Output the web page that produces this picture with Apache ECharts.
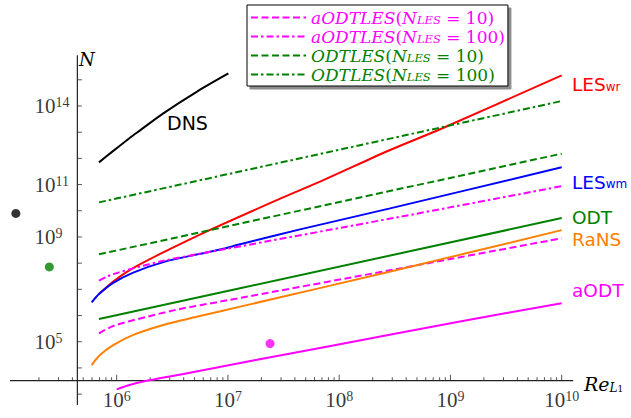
<!DOCTYPE html>
<html><head><meta charset="utf-8">
<script src="https://cdn.jsdelivr.net/npm/echarts@6/dist/echarts.min.js"></script>
<style>html,body{margin:0;padding:0;background:#fff}#c{width:631px;height:418px}</style>
</head><body><div id="c"></div>
<script>
// ---------- data ----------
const dnsRe = [6.93e5, 8.91e5, 1.318e6, 1.622e6, 2.624e6, 5.236e6, 1.009e7];
const dnsN  = [7.03e11, 1.66e12, 6.17e12, 1.175e13, 5.25e13, 3.47e14, 1.74e15];

const lesWrRe = [6.93e5, 9.31e5, 1.365e6, 2.512e6, 6.761e6, 2.944e7, 7.211e7, 2.871e8, 8.375e8, 1e10];
const lesWrN  = [6.61e6, 2.0e7, 6.03e7, 2.34e8, 1.778e9, 2.884e10, 1.479e11, 2.089e12, 1.380e13, 1.479e15];

const lesWmRe = [5.96e5, 6.93e5, 9.31e5, 1.409e6, 2.624e6, 5.236e6, 8.492e6, 1.288e7, 4.446e7, 2.871e8, 1e10];
const lesWmN  = [3.16e6, 6.61e6, 1.778e7, 4.37e7, 1.096e8, 2.14e8, 3.31e8, 5.25e8, 1.95e9, 1.23e10, 4.57e11];

const odtRe = [6.93e5, 1.285e7, 1e10];
const odtN  = [7.35e5, 1.096e7, 5.25e9];

const ransRe = [5.96e5, 7.08e5, 9.31e5, 1.409e6, 2.624e6, 5.236e6, 1.288e7, 3.162e8, 1e10];
const ransN  = [1.288e4, 3.09e4, 7.41e4, 1.82e5, 4.37e5, 8.91e5, 2.19e6, 5.25e7, 1.82e9];

const aodtRe = [1e6, 1.259e6, 1.734e6, 3.981e6, 1.778e7, 3.532e8, 1.403e9, 1e10];
const aodtN  = [1514, 2138, 3020, 5888, 1.995e4, 2.19e5, 6.61e5, 2.95e6];

const aodtles10Re = [6.93e5, 9.31e5, 1.862e6, 3.707e6, 8.492e6, 3.532e8, 1e10];
const aodtles10N  = [2.09e5, 3.98e5, 8.91e5, 1.778e6, 3.39e6, 6.31e7, 8.91e8];

const aodtles100Re = [6.93e5, 8.32e5, 1e6, 1.409e6, 2.624e6, 8.492e6, 3.532e8, 1e10];
const aodtles100N  = [2.14e7, 3.16e7, 4.17e7, 6.31e7, 1.23e8, 3.16e8, 5.89e9, 8.71e10];

const odtles10Re = [6.93e5, 7.94e7, 1e10];
const odtles10N  = [2.17e8, 1.74e10, 1.51e12];

const odtles100Re = [6.93e5, 7.94e7, 1e10];
const odtles100N  = [2.09e10, 1.72e12, 1.55e14];

const pointRe = [1.24e5, 2.48e5, 2.39e7];
const pointN  = [7.9e9, 7.2e7, 8.5e4];
const pointColors = ['#000000', '#008000', '#ff00ff'];

// axes crossing and extents
const axisCrossRe = 4.43e5;
const axisCrossN = 3243;
const xAxisLineRe = [1.1e5, 1.27e10];
const yAxisLineN = [380, 8.7e15];

// ticks
const xMajorTicks = [1e6, 1e7, 1e8, 1e9, 1e10];
const xTickMantissas = [2, 3, 4, 5, 6, 7, 8, 9];
const xMinorDecades = [1e5, 1e6, 1e7, 1e8, 1e9];
const yTicks = [1e3, 1e4, 1e5, 1e6, 1e7, 1e8, 1e9, 1e10, 1e11, 1e12, 1e13, 1e14, 1e15];
const xTickLabels = [1e6, 1e7, 1e8, 1e9, 1e10];
const yTickLabels = [1e5, 1e9, 1e11, 1e14];

// ---------- chart ----------
const chart = echarts.init(document.getElementById('c'), null, {renderer: 'svg', width: 631, height: 418});

const MAG = '#ff00ff', GRN = '#008000', RED = '#ff0000', BLU = '#0000ff', ORG = '#ff8000';
const DASH = [7, 3.5];
const DASHDOT = [7, 3, 2.5, 3];

function lineSeries(name, xs, ys, color, type, smooth, z) {
  return {
    name, type: 'line', data: xs.map((x, i) => [x, ys[i]]),
    symbol: 'none', showSymbol: false, smooth: smooth ? 0.3 : false,
    lineStyle: {color, width: 2, type}, itemStyle: {color},
    silent: true, clip: false, z: z || 3, animation: false
  };
}

const xMinorTicks = [];
xMinorDecades.forEach(d => xTickMantissas.forEach(m => xMinorTicks.push(m * d)));

function tickSeries(data, dx, dy) {
  return {
    type: 'custom', coordinateSystem: 'cartesian2d', silent: true, z: 2, clip: false,
    data,
    renderItem: (params, api) => {
      const p = api.coord([api.value(0), api.value(1)]);
      return {type: 'line', shape: {x1: p[0], y1: p[1], x2: p[0] + dx, y2: p[1] + dy},
              style: {stroke: '#555', lineWidth: 1}};
    }
  };
}

const exp = v => Math.round(Math.log10(v));
const tickRich = {
  b: {fontFamily: 'Liberation Serif', fontSize: 21, lineHeight: 21, color: '#000'},
  s: {fontFamily: 'Liberation Serif', fontSize: 14, lineHeight: 10, color: '#000', verticalAlign: 'top'}
};

const legendNames = {
  'aODTLES(N_LES = 10)': ['m', 'aODTLES', '10'],
  'aODTLES(N_LES = 100)': ['m', 'aODTLES', '100'],
  'ODTLES(N_LES = 10)': ['g', 'ODTLES', '10'],
  'ODTLES(N_LES = 100)': ['g', 'ODTLES', '100']
};
const legRich = {};
[['m', MAG], ['g', GRN]].forEach(([k, c]) => {
  legRich[k + 'i'] = {fontFamily: 'DejaVu Serif', fontStyle: 'italic', fontSize: 17, lineHeight: 17, color: c};
  legRich[k + 'u'] = {fontFamily: 'DejaVu Serif', fontSize: 17, lineHeight: 17, color: c};
  legRich[k + 's'] = {fontFamily: 'DejaVu Serif', fontStyle: 'italic', fontSize: 11.5, lineHeight: 11, color: c, verticalAlign: 'bottom'};
});

const sansRich = (c) => ({
  a: {fontFamily: 'DejaVu Sans', fontSize: 18.5, lineHeight: 16, fill: c},
  s: {fontFamily: 'DejaVu Sans', fontSize: 12, lineHeight: 12, fill: c, verticalAlign: 'bottom'}
});
function sideLabel(text, sub, color, x, y) {
  return {type: 'text', x, y, silent: true, z: 10,
    style: {text: sub ? `{a|${text}}{s|${sub}}` : `{a|${text}}`, align: 'left', verticalAlign: 'middle', rich: sansRich(color)}};
}

const option = {
  animation: false,
  backgroundColor: '#fff',
  grid: {left: 5.45, right: 13.7, top: 53.6, bottom: 10.8, containLabel: false, outerBoundsMode: 'none'},
  xAxis: {type: 'log', logBase: 10, min: 1e5, max: 3.16227766e10, show: false},
  yAxis: {type: 'log', logBase: 10, min: 316.227766, max: 1e16, show: false},
  legend: {
    data: Object.keys(legendNames),
    formatter: name => { const [c, a, n] = legendNames[name];
      return `{${c}i|${a}}{${c}u|(}{${c}i|N}{${c}s|LES}{${c}u| = ${n})}`; },
    orient: 'vertical', left: 247, top: 5, itemWidth: 55, itemHeight: 14, itemGap: 2,
    padding: [4, 3, 3, 3], borderColor: '#000', borderWidth: 1, borderRadius: 0,
    backgroundColor: '#fff', shadowColor: 'rgba(0,0,0,0.45)', shadowOffsetX: 3, shadowOffsetY: 3, shadowBlur: 1,
    itemStyle: {opacity: 0, borderWidth: 0},
    selectedMode: false, textStyle: {rich: legRich}, z: 20
  },
  graphic: [
    {type: 'text', x: 167, y: 123, silent: true, z: 10, style: {text: 'DNS', font: '19px "DejaVu Sans"', fill: '#000', align: 'left', verticalAlign: 'middle'}},
    sideLabel('LES', 'wr', RED, 572, 84.5),
    sideLabel('LES', 'wm', BLU, 572, 182),
    sideLabel('ODT', '', GRN, 572, 217.5),
    sideLabel('RaNS', '', ORG, 572, 239),
    sideLabel('aODT', '', MAG, 572, 290),
    {type: 'text', x: 79, y: 59, silent: true, z: 10, style: {text: 'N', font: 'italic 18px "DejaVu Serif"', fill: '#000', align: 'left', verticalAlign: 'middle'}},
    {type: 'text', x: 584, y: 384, silent: true, z: 10, style: {
      text: '{r|Re}{l|L}{o|1}', align: 'left', verticalAlign: 'middle',
      rich: {r: {fontFamily: 'DejaVu Serif', fontStyle: 'italic', fontSize: 19, lineHeight: 19, fill: '#000'},
             l: {fontFamily: 'DejaVu Serif', fontStyle: 'italic', fontSize: 12, lineHeight: 12, fill: '#000', verticalAlign: 'bottom'},
             o: {fontFamily: 'DejaVu Serif', fontSize: 9, lineHeight: 7, fill: '#000', verticalAlign: 'bottom'}}}}
  ],
  series: [
    // axis lines
    {type: 'line', data: [[xAxisLineRe[0], axisCrossN], [xAxisLineRe[1], axisCrossN]], symbol: 'none', silent: true, clip: false, z: 2,
     lineStyle: {color: '#222', width: 1.2}},
    {type: 'line', data: [[axisCrossRe, yAxisLineN[0]], [axisCrossRe, yAxisLineN[1]]], symbol: 'none', silent: true, clip: false, z: 2,
     lineStyle: {color: '#222', width: 1.2}},
    tickSeries(xMajorTicks.map(v => [v, axisCrossN]), 0, -6),
    tickSeries(xMinorTicks.map(v => [v, axisCrossN]), 0, -3.5),
    tickSeries(yTicks.map(v => [axisCrossRe, v]), 4.5, 0),
    // tick labels
    {type: 'scatter', symbolSize: 0, silent: true, z: 2, data: xTickLabels.map(v => [v, axisCrossN]),
     label: {show: true, position: 'bottom', distance: 9, formatter: p => `{b|10}{s|${exp(p.value[0])}}`, rich: tickRich}},
    {type: 'scatter', symbolSize: 0, silent: true, z: 2, data: yTickLabels.map(v => [axisCrossRe, v]),
     label: {show: true, position: 'inside', align: 'left', verticalAlign: 'middle', offset: [-42.8, 0],
             formatter: p => `{b|10}{s|${exp(p.value[1])}}`, rich: tickRich}},
    // curves
    lineSeries('DNS', dnsRe, dnsN, '#000', 'solid', true),
    lineSeries('LESwr', lesWrRe, lesWrN, RED, 'solid', true),
    lineSeries('LESwm', lesWmRe, lesWmN, BLU, 'solid', true),
    lineSeries('ODT', odtRe, odtN, GRN, 'solid', false),
    lineSeries('aODTLES(N_LES = 10)', aodtles10Re, aodtles10N, MAG, DASH, true),
    lineSeries('RaNS', ransRe, ransN, ORG, 'solid', true),
    lineSeries('aODTLES(N_LES = 100)', aodtles100Re, aodtles100N, MAG, DASHDOT, true),
    lineSeries('ODTLES(N_LES = 10)', odtles10Re, odtles10N, GRN, DASH, false),
    lineSeries('ODTLES(N_LES = 100)', odtles100Re, odtles100N, GRN, DASHDOT, false),
    lineSeries('aODT', aodtRe, aodtN, MAG, 'solid', true),
    // points
    {type: 'scatter', symbol: 'circle', symbolSize: 9, silent: true, z: 4,
     data: pointRe.map((x, i) => ({value: [x, pointN[i]], itemStyle: {color: pointColors[i]}}))}
  ]
};
chart.setOption(option);
</script></body></html>
